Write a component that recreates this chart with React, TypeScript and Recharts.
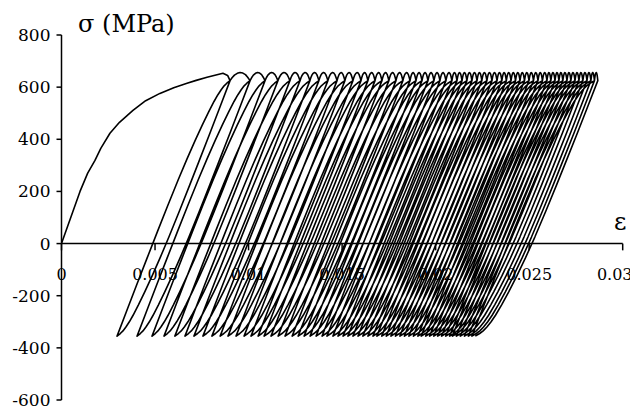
import React from 'react';
import { LineChart, Line, XAxis, YAxis, ReferenceLine } from 'recharts';

// ---- values ----
// first (monotonic) loading curve
const monoStrain = [0, 0.00099, 0.0014, 0.00179, 0.0021, 0.00259, 0.0031, 0.00382, 0.0045, 0.00526, 0.006, 0.00671, 0.0072, 0.00778, 0.00863, 0.00888];
const monoStress = [0, 200, 270, 319, 365, 423, 465, 511, 548, 576, 598, 615, 626, 638, 653, 645];

// strain at the end of each peak (start of unloading), one per cycle
const peakStrain = [
  0.00901, 0.01008, 0.01088, 0.01157, 0.01221, 0.01275, 0.01328, 0.01376, 0.01424, 0.01473,
  0.01515, 0.01558, 0.01601, 0.01638, 0.01676, 0.01713, 0.0175, 0.01788, 0.01825, 0.01863,
  0.01895, 0.01927, 0.01959, 0.01991, 0.02023, 0.02055, 0.02087, 0.02114, 0.02141, 0.02167,
  0.02194, 0.02221, 0.02247, 0.02274, 0.02301, 0.02328, 0.02354, 0.02378, 0.02403, 0.02427,
  0.02451, 0.02475, 0.02499, 0.02523, 0.02547, 0.02571, 0.02595, 0.02616, 0.02638, 0.02659,
  0.0268, 0.02702, 0.02723, 0.02745, 0.02766, 0.02787, 0.02809, 0.0283, 0.02849, 0.02867,
];
// strain at each valley (after unloading from the peak with the same index)
const valleyStrain = [
  0.00297, 0.00404, 0.00484, 0.00548, 0.00606, 0.0066, 0.00708, 0.00756, 0.00804, 0.00848,
  0.0089, 0.00933, 0.00976, 0.01013, 0.01051, 0.01083, 0.0112, 0.01158, 0.01195, 0.01233,
  0.01265, 0.01297, 0.01329, 0.01361, 0.01393, 0.01419, 0.01451, 0.01478, 0.01505, 0.01531,
  0.01558, 0.01585, 0.01611, 0.01638, 0.01665, 0.01686, 0.01712, 0.01736, 0.01761, 0.01785,
  0.01809, 0.01833, 0.01857, 0.01881, 0.01905, 0.01923, 0.01947, 0.01968, 0.0199, 0.02011,
  0.02032, 0.02054, 0.02075, 0.0209, 0.02111, 0.02132, 0.02154, 0.02175, 0.02194, 0.02212,
];

// loop branch shape read from the first loops
const PEAK_STRESS = 625;
const VALLEY_STRESS = -355;
const E_MOD = 195000;
const unloadStress = [625, 525, 425, 325, 225, 125, 25, -55, -125, -185, -235, -275, -300, -320, -335, -345, -355];
const unloadPlastic = [0, 0.02, 0.04, 0.07, 0.1, 0.14, 0.19, 0.25, 0.32, 0.4, 0.48, 0.56, 0.63, 0.71, 0.79, 0.88, 1];
const arcFrac = [0.1, 0.22, 0.36, 0.5, 0.64, 0.77, 0.88, 1];
const arcStress = [636, 646, 653, 656, 654, 648, 638, 625];

const yTicks = [-600, -400, -200, 0, 200, 400, 600, 800];
const xTicks = [0, 0.005, 0.01, 0.015, 0.02, 0.025, 0.03];
const xTickLabels = ['0', '0.005', '0.01', '0.015', '0.02', '0.025', '0.03'];

type Pt = { e: number; s: number };

function buildPath(): Pt[] {
  const pts: Pt[] = [];
  for (let k = 0; k < monoStrain.length; k++) pts.push({ e: monoStrain[k], s: monoStress[k] });
  const range = PEAK_STRESS - VALLEY_STRESS;
  for (let i = 0; i < peakStrain.length; i++) {
    const p = peakStrain[i];
    const v = valleyStrain[i];
    const pu = p - v - range / E_MOD;
    for (let k = 0; k < unloadStress.length; k++) {
      pts.push({ e: p - (PEAK_STRESS - unloadStress[k]) / E_MOD - unloadPlastic[k] * pu, s: unloadStress[k] });
    }
    if (i < peakStrain.length - 1) {
      for (let k = 1; k < unloadStress.length; k++) {
        const d = PEAK_STRESS - unloadStress[k];
        pts.push({ e: v + d / E_MOD + unloadPlastic[k] * pu, s: VALLEY_STRESS + d });
      }
      const r = peakStrain[i + 1] - p;
      for (let k = 0; k < arcFrac.length - 1; k++) {
        pts.push({ e: p + arcFrac[k] * r, s: arcStress[k] });
      }
    }
  }
  return pts;
}

const data = buildPath();
const FONT = 'DejaVu Serif';

export default function App() {
  return (
    <div style={{ position: 'relative', width: 630, height: 400 }}>
      <LineChart
        width={630}
        height={400}
        data={data}
        margin={{ top: 27, right: 15.3, bottom: 8, left: 0 }}
      >
        <XAxis dataKey="e" type="number" domain={[0, 0.03]} hide allowDataOverflow />
        <YAxis
          type="number"
          domain={[-600, 800]}
          ticks={yTicks}
          width={53.5}
          interval={0}
          tickSize={5}
          tickMargin={6}
          axisLine={{ stroke: '#000', strokeWidth: 1.5 }}
          tickLine={{ stroke: '#000', strokeWidth: 1.5 }}
          tick={{ fill: '#000', fontSize: 17, style: { fontFamily: FONT } }}
          allowDataOverflow
        />
        <ReferenceLine y={0} stroke="#000" strokeWidth={1.5} />
        {xTicks.map((t, i) => (
          <ReferenceLine
            key={t}
            segment={[{ x: t, y: 0 }, { x: t, y: -26 }]}
            stroke="#000"
            strokeWidth={1.5}
            label={{
              value: xTickLabels[i],
              position: 'bottom',
              offset: 18,
              fill: '#000',
              fontSize: 16,
              dx: i === xTicks.length - 1 ? -8 : 0,
              style: { fontFamily: FONT },
            }}
          />
        ))}
        <Line
          dataKey="s"
          type="linear"
          stroke="#000"
          strokeWidth={1.6}
          dot={false}
          isAnimationActive={false}
          strokeLinejoin="round"
        />
      </LineChart>
      <svg width={630} height={400} style={{ position: 'absolute', left: 0, top: 0, pointerEvents: 'none' }}>
        <text x={70} y={24} style={{ fontFamily: FONT, fontSize: 24 }} fill="#000">σ (MPa)</text>
        <text x={606} y={222} style={{ fontFamily: FONT, fontSize: 24 }} fill="#000">ε</text>
      </svg>
    </div>
  );
}
